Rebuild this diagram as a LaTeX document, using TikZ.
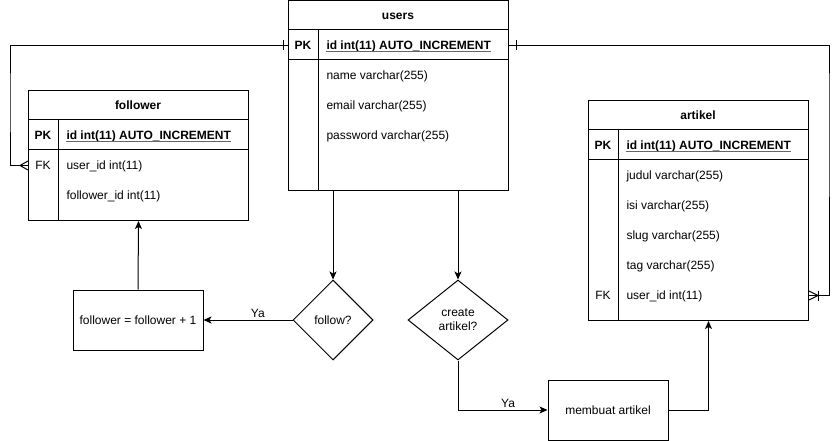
\documentclass[tikz,border=0pt]{standalone}
\usepackage{fontspec}
\setmainfont{Liberation Sans}
\usetikzlibrary{arrows.meta,shapes.geometric}
\begin{document}
\begin{tikzpicture}[x=1pt,y=-1pt,line width=1pt,
  font=\fontsize{12}{14}\selectfont,
  tbl/.style={draw, rectangle, anchor=north west, inner sep=0, minimum width=220},
  rowbox/.style={rectangle, anchor=north west, inner sep=0, minimum width=220, minimum height=30},
  fld/.style={anchor=base west, inner sep=0},
  keylbl/.style={anchor=base, inner sep=0},
  ttl/.style={anchor=base, inner sep=0, font=\fontsize{12}{14}\selectfont\bfseries},
  pk/.style={anchor=base west, inner sep=0, font=\fontsize{12}{14}\selectfont\bfseries},
  ul/.style={line width=0.8pt, draw=black!60},
  procbox/.style={draw, rectangle, inner sep=0, minimum height=60},
  decision/.style={draw, diamond, inner sep=0, align=center, minimum height=80},
  arr/.style={-{Stealth[length=8pt,width=7pt,inset=2pt]}},
  lbl/.style={inner sep=2pt}]
\useasboundingbox (0,0) rectangle (838,441);

% ---------- users ----------
\node[tbl, minimum height=190] (users) at (288,0) {};
\node[rowbox] (upk) at (288,30) {};
\draw (288,30) -- (508,30) (288,60) -- (508,60) (318,30) -- (318,190);
\node[ttl] (ut) at (398,19.4) {users};
\node[keylbl] (upkl) at (303,49.4) {\bfseries PK};
\node[pk] (uid) at (326,49.4) {id int(11) AUTO\_INCREMENT};
\draw[ul] ([yshift=-1.6pt]uid.base west) -- ([yshift=-1.6pt]uid.base east);
\node[fld] (u1) at (326,79.4) {name varchar(255)};
\node[fld] (u2) at (326,109.4) {email varchar(255)};
\node[fld] (u3) at (326,139.4) {password varchar(255)};

% ---------- follower ----------
\node[tbl, minimum height=130] (follower) at (28,90) {};
\node[rowbox] (ffk) at (28,150) {};
\draw (28,120) -- (248,120) (28,150) -- (248,150) (58,120) -- (58,220);
\node[ttl] (ft) at (138,109.4) {follower};
\node[keylbl] (fpkl) at (43,139.4) {\bfseries PK};
\node[pk] (fid) at (66,139.4) {id int(11) AUTO\_INCREMENT};
\draw[ul] ([yshift=-1.6pt]fid.base west) -- ([yshift=-1.6pt]fid.base east);
\node[keylbl] (ffkl) at (43,169.4) {FK};
\node[fld] (f1) at (66,169.4) {user\_id int(11)};
\node[fld] (f2) at (66,199.4) {follower\_id int(11)};

% ---------- artikel ----------
\node[tbl, minimum height=220] (artikel) at (588,100) {};
\node[rowbox] (afk) at (588,280) {};
\draw (588,130) -- (808,130) (588,160) -- (808,160) (618,130) -- (618,320);
\node[ttl] (at) at (698,119.4) {artikel};
\node[keylbl] (apkl) at (603,149.4) {\bfseries PK};
\node[pk] (aid) at (626,149.4) {id int(11) AUTO\_INCREMENT};
\draw[ul] ([yshift=-1.6pt]aid.base west) -- ([yshift=-1.6pt]aid.base east);
\node[fld] (a1) at (626,179.4) {judul varchar(255)};
\node[fld] (a2) at (626,209.4) {isi varchar(255)};
\node[fld] (a3) at (626,239.4) {slug varchar(255)};
\node[fld] (a4) at (626,269.4) {tag varchar(255)};
\node[keylbl] (afkl) at (603,299.4) {FK};
\node[fld] (a5) at (626,299.4) {user\_id int(11)};

% ---------- flow ----------
\node[decision, minimum width=80] (fd) at (333,320) {follow?};
\node[decision, minimum width=100] (cd) at (458,320) {create\\artikel?};
\node[procbox, minimum width=130] (fb) at (138,320) {follower = follower + 1};
\node[procbox, minimum width=120] (mb) at (608,410) {membuat artikel};

\coordinate (cl) at (10,100);
\coordinate (cr) at (829,100);

% ---------- relations ----------
\draw (upk.west) -| (cl) |- (ffk.west);
\draw ([xshift=-5pt,yshift=5pt]upk.west) -- ([xshift=-5pt,yshift=-5pt]upk.west);
\draw ([xshift=-8pt]ffk.west) -- ([yshift=4.5pt]ffk.west)
      ([xshift=-8pt]ffk.west) -- ([yshift=-4.5pt]ffk.west);

\draw (upk.east) -| (cr) |- (afk.east);
\draw ([xshift=7pt,yshift=5pt]upk.east) -- ([xshift=7pt,yshift=-5pt]upk.east);
\draw ([xshift=9pt]afk.east) -- ([yshift=4.5pt]afk.east)
      ([xshift=9pt]afk.east) -- ([yshift=-4.5pt]afk.east);
\draw ([xshift=9pt,yshift=5pt]afk.east) -- ([xshift=9pt,yshift=-5pt]afk.east);

% ---------- flow arrows ----------
\draw[arr] (users.south -| fd.north) -- (fd.north);
\draw[arr] (users.south -| cd.north) -- (cd.north);
\draw[arr] (fd.west) -- node[lbl, pos=0.39, above] {Ya} (fb.east);
\draw[arr] (fb.north) -- (follower.south);
\draw[arr] (cd.south) |- node[lbl, pos=0.78, above] {Ya} (mb.west);
\draw[arr] (mb.east) -| ([xshift=10pt]artikel.south);
\end{tikzpicture}
\end{document}
